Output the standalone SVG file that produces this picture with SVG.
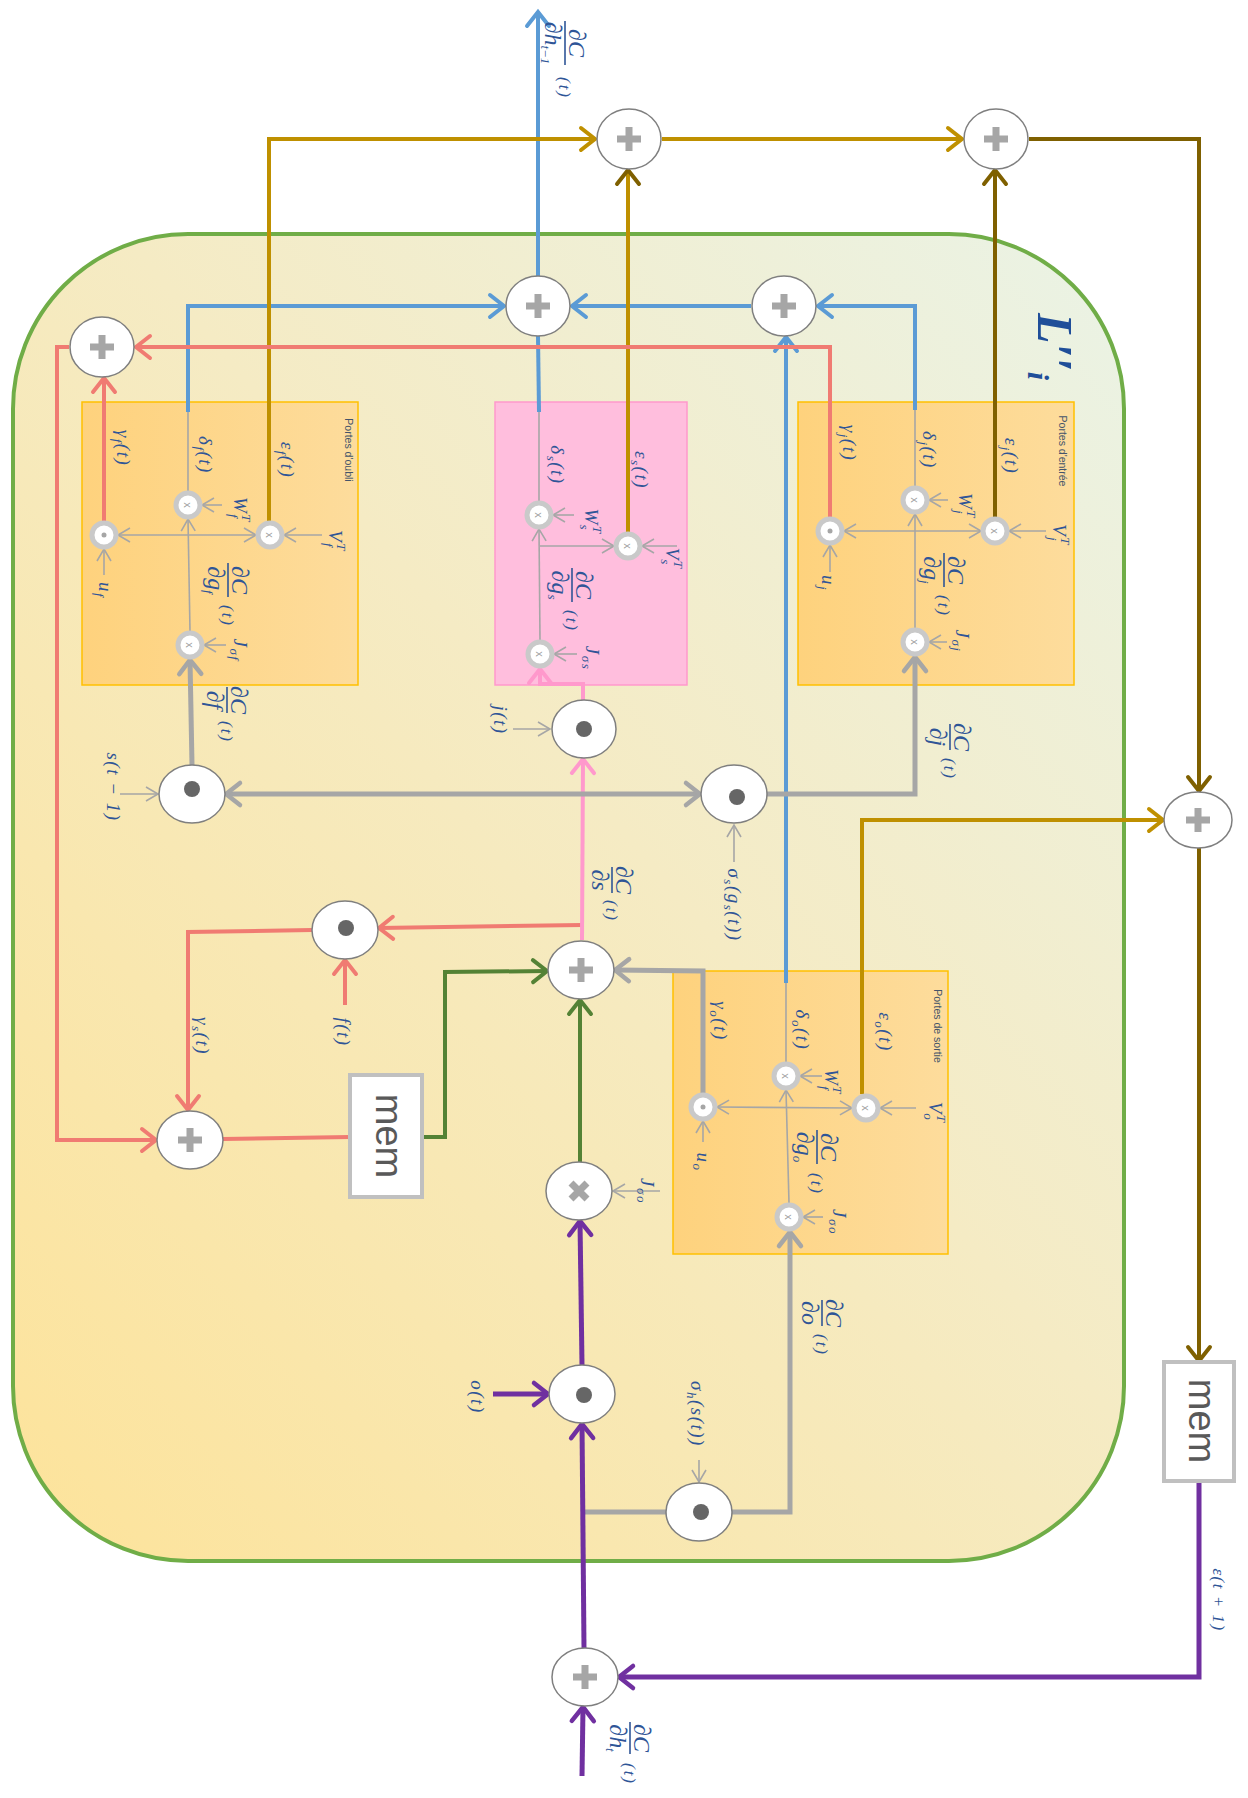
<svg xmlns="http://www.w3.org/2000/svg" width="1248" height="1798" viewBox="0 0 1248 1798">
<defs>
<linearGradient id="bg" x1="0" y1="1" x2="1" y2="0">
<stop offset="0" stop-color="#fde39a"/>
<stop offset="0.55" stop-color="#f5ebc4"/>
<stop offset="1" stop-color="#eaf3e6"/>
</linearGradient>
<linearGradient id="gate" x1="0" y1="0" x2="1" y2="0">
<stop offset="0" stop-color="#fed27d"/>
<stop offset="1" stop-color="#fddc9c"/>
</linearGradient>
<marker id="aBlue" viewBox="-3 -3 22 30" refX="15" refY="12" markerWidth="22" markerHeight="30" orient="auto" markerUnits="userSpaceOnUse"><path d="M1,1 L15,12 L1,23" fill="none" stroke="#5b9bd5" stroke-width="4" stroke-linecap="round"/></marker>
<marker id="aGold" viewBox="-3 -3 22 30" refX="15" refY="12" markerWidth="22" markerHeight="30" orient="auto" markerUnits="userSpaceOnUse"><path d="M1,1 L15,12 L1,23" fill="none" stroke="#bf9000" stroke-width="4" stroke-linecap="round"/></marker>
<marker id="aBrown" viewBox="-3 -3 22 30" refX="15" refY="12" markerWidth="22" markerHeight="30" orient="auto" markerUnits="userSpaceOnUse"><path d="M1,1 L15,12 L1,23" fill="none" stroke="#7f6000" stroke-width="4" stroke-linecap="round"/></marker>
<marker id="aRed" viewBox="-3 -3 22 30" refX="15" refY="12" markerWidth="22" markerHeight="30" orient="auto" markerUnits="userSpaceOnUse"><path d="M1,1 L15,12 L1,23" fill="none" stroke="#f07b72" stroke-width="4" stroke-linecap="round"/></marker>
<marker id="aPink" viewBox="-3 -3 22 30" refX="15" refY="12" markerWidth="22" markerHeight="30" orient="auto" markerUnits="userSpaceOnUse"><path d="M1,1 L15,12 L1,23" fill="none" stroke="#ff99cc" stroke-width="4" stroke-linecap="round"/></marker>
<marker id="aGreen" viewBox="-3 -3 22 30" refX="15" refY="12" markerWidth="22" markerHeight="30" orient="auto" markerUnits="userSpaceOnUse"><path d="M1,1 L15,12 L1,23" fill="none" stroke="#548235" stroke-width="4" stroke-linecap="round"/></marker>
<marker id="aGray" viewBox="-3 -3 22 30" refX="15" refY="12" markerWidth="22" markerHeight="30" orient="auto" markerUnits="userSpaceOnUse"><path d="M1,1 L15,12 L1,23" fill="none" stroke="#a6a6a6" stroke-width="4.5" stroke-linecap="round"/></marker>
<marker id="aGrayS" viewBox="-3 -3 22 30" refX="15" refY="12" markerWidth="22" markerHeight="30" orient="auto-start-reverse" markerUnits="userSpaceOnUse"><path d="M1,1 L15,12 L1,23" fill="none" stroke="#a6a6a6" stroke-width="4.5" stroke-linecap="round"/></marker>
<marker id="aPurple" viewBox="-3 -3 22 30" refX="15" refY="12" markerWidth="22" markerHeight="30" orient="auto" markerUnits="userSpaceOnUse"><path d="M1,1 L15,12 L1,23" fill="none" stroke="#7030a0" stroke-width="4.5" stroke-linecap="round"/></marker>
<marker id="aThin" viewBox="-2 -2 16 18" refX="12" refY="7" markerWidth="16" markerHeight="18" orient="auto-start-reverse" markerUnits="userSpaceOnUse"><path d="M0,0 L12,7 L0,14" fill="none" stroke="#a6a6a6" stroke-width="1.6"/></marker>
</defs>
<style>
.lbl{font-family:"Liberation Serif","DejaVu Serif",serif;font-style:italic;fill:#2f5597;font-size:19px;text-anchor:middle;letter-spacing:1.5px}
.sm{font-size:13px}
.fr{font-family:"Liberation Serif","DejaVu Serif",serif;font-style:italic;fill:#2f5597;font-size:24px;text-anchor:middle}
.ft{font-family:"Liberation Serif","DejaVu Serif",serif;font-style:italic;fill:#2f5597;font-size:17px;text-anchor:middle;letter-spacing:2px}
.bar{stroke:#2f5597;stroke-width:1.6}
.gtitle{font-family:"Liberation Sans",Arial,sans-serif;font-size:10.5px;fill:#44546a;text-anchor:middle}
.op{fill:#fff;stroke:#7f7f7f;stroke-width:1.5}
.plus{stroke:#a6a6a6;stroke-width:7;fill:none}
.dot{fill:#666}
.gn{fill:#fff;stroke:#c9c9c9;stroke-width:5}
.gx{font-family:"Liberation Sans",Arial,sans-serif;font-size:11px;fill:#a0a0a0;text-anchor:middle}
.gd{fill:#a6a6a6}
.thin{stroke:#a6a6a6;stroke-width:1.6;fill:none}
.mem{fill:#fff;stroke:#c0c0c0;stroke-width:4}
.memt{font-family:"Liberation Sans",Arial,sans-serif;font-size:38px;fill:#595959;text-anchor:middle}
.c{fill:none;stroke-width:4}
.blue{stroke:#5b9bd5}
.gold{stroke:#bf9000}
.brown{stroke:#7f6000}
.red{stroke:#f07b72}
.pink{stroke:#ff99cc}
.green{stroke:#548235}
.gray{stroke:#a6a6a6;stroke-width:5}
.purple{stroke:#7030a0;stroke-width:5}
</style>

<g id="cell">
<rect x="13" y="234" width="1111" height="1327" rx="175" ry="175" fill="url(#bg)" stroke="#70ad47" stroke-width="4"/>
<text transform="translate(1055 345) rotate(90)" x="-32" y="17" style="font-family:'Liberation Serif','DejaVu Serif',serif;font-style:italic;font-weight:bold;font-size:50px;fill:#1f4e99">L′′<tspan font-size="30" dy="10">i</tspan></text>
</g>

<g id="gate-oubli">
<rect x="82" y="402" width="276" height="283" fill="url(#gate)" stroke="#ffc000" stroke-width="1.5"/>
<text class="gtitle" transform="translate(349 450) rotate(90)" y="4">Portes d'oubli</text>
</g>
<g id="gate-s">
<rect x="495" y="402" width="192" height="283" fill="#ffbedd" stroke="#ff99cc" stroke-width="1.5"/>
</g>
<g id="gate-entree">
<rect x="798" y="402" width="276" height="283" fill="url(#gate)" stroke="#ffc000" stroke-width="1.5"/>
<text class="gtitle" transform="translate(1063 451) rotate(90)" y="4">Portes d'entrée</text>
</g>
<g id="gate-sortie">
<rect x="673" y="971" width="275" height="283" fill="url(#gate)" stroke="#ffc000" stroke-width="1.5"/>
<text class="gtitle" transform="translate(938 1026) rotate(90)" y="4">Portes de sortie</text>
</g>

<g id="connectors">
<path class="thin" d="M118,535 L256,535" marker-start="url(#aThin)" marker-end="url(#aThin)"/>
<path class="thin" d="M190,631 L188,519" marker-end="url(#aThin)"/>
<path class="thin" d="M188,491 L188,412"/>
<path class="thin" d="M104,575 L104,549" marker-end="url(#aThin)"/>
<path class="thin" d="M222,505 L202,505" marker-end="url(#aThin)"/>
<path class="thin" d="M322,535 L284,535" marker-end="url(#aThin)"/>
<path class="thin" d="M226,645 L204,645" marker-end="url(#aThin)"/>

<path class="thin" d="M540,546 L614,546" marker-end="url(#aThin)"/>
<path class="thin" d="M540,640 L539,529" marker-end="url(#aThin)"/>
<path class="thin" d="M539,501 L539,412"/>
<path class="thin" d="M574,515 L553,515" marker-end="url(#aThin)"/>
<path class="thin" d="M677,546 L642,546" marker-end="url(#aThin)"/>
<path class="thin" d="M577,654 L554,654" marker-end="url(#aThin)"/>

<path class="thin" d="M844,531 L981,531" marker-start="url(#aThin)" marker-end="url(#aThin)"/>
<path class="thin" d="M915,628 L915,514" marker-end="url(#aThin)"/>
<path class="thin" d="M915,486 L915,410"/>
<path class="thin" d="M830,572 L830,545" marker-end="url(#aThin)"/>
<path class="thin" d="M948,500 L929,500" marker-end="url(#aThin)"/>
<path class="thin" d="M1046,531 L1009,531" marker-end="url(#aThin)"/>
<path class="thin" d="M947,642 L929,642" marker-end="url(#aThin)"/>

<path class="thin" d="M717,1107 L852,1108" marker-start="url(#aThin)" marker-end="url(#aThin)"/>
<path class="thin" d="M789,1203 L786,1090" marker-end="url(#aThin)"/>
<path class="thin" d="M786,1062 L786,983"/>
<path class="thin" d="M703,1142 L703,1121" marker-end="url(#aThin)"/>
<path class="thin" d="M822,1076 L800,1076" marker-end="url(#aThin)"/>
<path class="thin" d="M916,1108 L880,1108" marker-end="url(#aThin)"/>
<path class="thin" d="M823,1217 L803,1217" marker-end="url(#aThin)"/>

<path class="thin" d="M120,794 L158,794" marker-end="url(#aThin)"/>
<path class="thin" d="M513,729 L550,729" marker-end="url(#aThin)"/>
<path class="thin" d="M734,862 L734,825" marker-end="url(#aThin)"/>
<path class="thin" d="M699,1460 L699,1482" marker-end="url(#aThin)"/>
<path class="thin" d="M660,1191 L613,1191" marker-end="url(#aThin)"/>

<path class="c blue" d="M538,276 L538,12" marker-end="url(#aBlue)"/>
<path class="c blue" d="M188,412 L188,306 L504,306" marker-end="url(#aBlue)"/>
<path class="c blue" d="M751,306 L572,306" marker-end="url(#aBlue)"/>
<path class="c blue" d="M915,410 L915,306 L818,306" marker-end="url(#aBlue)"/>
<path class="c blue" d="M786,983 L786,337" marker-end="url(#aBlue)"/>
<path class="c blue" d="M539,412 L538,336"/>
<path class="c gold" d="M269,521 L269,139 L595,139" marker-end="url(#aGold)"/>
<path class="c gold" d="M628,532 L628,170" marker-end="url(#aBrown)"/>
<path class="c gold" d="M662,139 L962,139" marker-end="url(#aGold)"/>
<path class="c gold" d="M862,1094 L862,820 L1163,820" marker-end="url(#aGold)"/>
<path class="c brown" d="M995,517 L995,170" marker-end="url(#aBrown)"/>
<path class="c brown" d="M1029,139 L1199,139 L1199,791" marker-end="url(#aBrown)"/>
<path class="c brown" d="M1199,848 L1199,1361" marker-end="url(#aBrown)"/>
<path class="c red" d="M104,521 L104,378" marker-end="url(#aRed)"/>
<path class="c red" d="M830,517 L830,347 L136,347" marker-end="url(#aRed)"/>
<path class="c red" d="M69,347 L57,347 L57,1140 L156,1140" marker-end="url(#aRed)"/>
<path class="c red" d="M582,925 L379,928" marker-end="url(#aRed)"/>
<path class="c red" d="M312,930 L188,932 L188,1110" marker-end="url(#aRed)"/>
<path class="c red" d="M345,1005 L345,960" marker-end="url(#aRed)"/>
<path class="c red" d="M223,1139 L350,1137"/>
<path class="c pink" d="M582,940 L583,759" marker-end="url(#aPink)"/>
<path class="c pink" d="M583,700 L583,684 L540,684 L540,669" marker-end="url(#aPink)"/>
<path class="c green" d="M422,1137 L445,1137 L445,972 L547,971" marker-end="url(#aGreen)"/>
<path class="c green" d="M580,1162 L580,1000" marker-end="url(#aGreen)"/>
<path class="c gray" d="M192,765 L190,660" marker-end="url(#aGray)"/>
<path class="c gray" d="M226,794 L700,794" marker-start="url(#aGrayS)" marker-end="url(#aGrayS)"/>
<path class="c gray" d="M767,794 L915,794 L915,657" marker-end="url(#aGray)"/>
<path class="c gray" d="M703,1093 L703,971 L615,970" marker-end="url(#aGray)"/>
<path class="c gray" d="M582,1512 L666,1512"/>
<path class="c gray" d="M732,1512 L790,1512 L790,1232" marker-end="url(#aGray)"/>
<path class="c purple" d="M582,1776 L583,1707" marker-end="url(#aPurple)"/>
<path class="c purple" d="M584,1648 L582,1424" marker-end="url(#aPurple)"/>
<path class="c purple" d="M582,1365 L580,1221" marker-end="url(#aPurple)"/>
<path class="c purple" d="M493,1394 L548,1394" marker-end="url(#aPurple)"/>
<path class="c purple" d="M1199,1481 L1199,1677 L619,1677" marker-end="url(#aPurple)"/>
</g>

<g id="plus-top1"><ellipse class="op" cx="629" cy="139" rx="32" ry="30"/><path class="plus" d="M617,139 H641 M629,127 V151"/></g>
<g id="plus-top2"><ellipse class="op" cx="996" cy="139" rx="32" ry="30"/><path class="plus" d="M984,139 H1008 M996,127 V151"/></g>
<g id="plus-blue1"><ellipse class="op" cx="538" cy="306" rx="32" ry="30"/><path class="plus" d="M526,306 H550 M538,294 V318"/></g>
<g id="plus-blue2"><ellipse class="op" cx="784" cy="306" rx="32" ry="30"/><path class="plus" d="M772,306 H796 M784,294 V318"/></g>
<g id="plus-red1"><ellipse class="op" cx="102" cy="347" rx="32" ry="30"/><path class="plus" d="M90,347 H114 M102,335 V359"/></g>
<g id="plus-right"><ellipse class="op" cx="1198" cy="820" rx="34" ry="28"/><path class="plus" d="M1186,820 H1210 M1198,808 V832"/></g>
<g id="mem-right"><rect class="mem" x="1164" y="1362" width="70" height="119"/><text class="memt" transform="translate(1199 1421) rotate(90)" y="10">mem</text></g>
<g id="plus-bottom"><ellipse class="op" cx="585" cy="1677" rx="33" ry="29"/><path class="plus" d="M573,1677 H597 M585,1665 V1689"/></g>
<g id="dot-s"><ellipse class="op" cx="192" cy="794" rx="33" ry="29"/><circle class="dot" cx="192" cy="789" r="8"/></g>
<g id="dot-sigs"><ellipse class="op" cx="734" cy="794" rx="33" ry="29"/><circle class="dot" cx="737" cy="797" r="8"/></g>
<g id="dot-j"><ellipse class="op" cx="584" cy="729" rx="32" ry="29"/><circle class="dot" cx="584" cy="729" r="8"/></g>
<g id="dot-f"><ellipse class="op" cx="345" cy="930" rx="33" ry="29"/><circle class="dot" cx="346" cy="928" r="8"/></g>
<g id="plus-red2"><ellipse class="op" cx="190" cy="1140" rx="33" ry="29"/><path class="plus" d="M178,1140 H202 M190,1128 V1152"/></g>
<g id="mem-inner"><rect class="mem" x="350" y="1075" width="72" height="122"/><text class="memt" transform="translate(386 1136) rotate(90)" y="10">mem</text></g>
<g id="plus-center"><ellipse class="op" cx="581" cy="970" rx="33" ry="29"/><path class="plus" d="M569,970 H593 M581,958 V982"/></g>
<g id="times"><ellipse class="op" cx="579" cy="1191" rx="33" ry="29"/><path class="plus" d="M571,1183 L587,1199 M587,1183 L571,1199"/></g>
<g id="dot-o"><ellipse class="op" cx="582" cy="1394" rx="33" ry="29"/><circle class="dot" cx="584" cy="1395" r="8"/></g>
<g id="dot-sigh"><ellipse class="op" cx="699" cy="1512" rx="33" ry="29"/><circle class="dot" cx="701" cy="1512" r="8"/></g>

<g id="gf-gamma"><circle class="gn" cx="104" cy="535" r="12"/><circle class="gd" cx="104" cy="535" r="2.5"/></g>
<g id="gf-w"><circle class="gn" cx="188" cy="505" r="12"/><text class="gx" transform="translate(188 505) rotate(90)" y="4">x</text></g>
<g id="gf-v"><circle class="gn" cx="270" cy="535" r="12"/><text class="gx" transform="translate(270 535) rotate(90)" y="4">x</text></g>
<g id="gf-j"><circle class="gn" cx="190" cy="645" r="12"/><text class="gx" transform="translate(190 645) rotate(90)" y="4">x</text></g>
<g id="gs-w"><circle class="gn" cx="539" cy="515" r="12"/><text class="gx" transform="translate(539 515) rotate(90)" y="4">x</text></g>
<g id="gs-v"><circle class="gn" cx="628" cy="546" r="12"/><text class="gx" transform="translate(628 546) rotate(90)" y="4">x</text></g>
<g id="gs-j"><circle class="gn" cx="540" cy="654" r="12"/><text class="gx" transform="translate(540 654) rotate(90)" y="4">x</text></g>
<g id="gj-gamma"><circle class="gn" cx="830" cy="531" r="12"/><circle class="gd" cx="830" cy="531" r="2.5"/></g>
<g id="gj-w"><circle class="gn" cx="915" cy="500" r="12"/><text class="gx" transform="translate(915 500) rotate(90)" y="4">x</text></g>
<g id="gj-v"><circle class="gn" cx="995" cy="531" r="12"/><text class="gx" transform="translate(995 531) rotate(90)" y="4">x</text></g>
<g id="gj-j"><circle class="gn" cx="915" cy="642" r="12"/><text class="gx" transform="translate(915 642) rotate(90)" y="4">x</text></g>
<g id="go-gamma"><circle class="gn" cx="703" cy="1107" r="12"/><circle class="gd" cx="703" cy="1107" r="2.5"/></g>
<g id="go-w"><circle class="gn" cx="786" cy="1076" r="12"/><text class="gx" transform="translate(786 1076) rotate(90)" y="4">x</text></g>
<g id="go-v"><circle class="gn" cx="866" cy="1108" r="12"/><text class="gx" transform="translate(866 1108) rotate(90)" y="4">x</text></g>
<g id="go-j"><circle class="gn" cx="789" cy="1217" r="12"/><text class="gx" transform="translate(789 1217) rotate(90)" y="4">x</text></g>

<g id="labels">
<text class="lbl" transform="translate(123 448) rotate(90)" y="6">γ<tspan class="sm" dy="4">f</tspan><tspan dy="-4">(t)</tspan></text>
<text class="lbl" transform="translate(205 455) rotate(90)" y="6">δ<tspan class="sm" dy="4">f</tspan><tspan dy="-4">(t)</tspan></text>
<text class="lbl" transform="translate(287 460) rotate(90)" y="6">ε<tspan class="sm" dy="4">f</tspan><tspan dy="-4">(t)</tspan></text>
<text class="lbl" transform="translate(240 510) rotate(90)" y="6">W<tspan class="sm" dy="-8">T</tspan><tspan class="sm" dx="-9" dy="13">f</tspan></text>
<text class="lbl" transform="translate(335 541) rotate(90)" y="6">V<tspan class="sm" dy="-8">T</tspan><tspan class="sm" dx="-9" dy="13">f</tspan></text>
<text class="lbl" transform="translate(105 590) rotate(90)" y="6">u<tspan class="sm" dy="4">f</tspan></text>
<text class="lbl" transform="translate(240 650) rotate(90)" y="6">J<tspan class="sm" dy="4">σf</tspan></text>

<text class="lbl" transform="translate(849 443) rotate(90)" y="6">γ<tspan class="sm" dy="4">j</tspan><tspan dy="-4">(t)</tspan></text>
<text class="lbl" transform="translate(929 450) rotate(90)" y="6">δ<tspan class="sm" dy="4">j</tspan><tspan dy="-4">(t)</tspan></text>
<text class="lbl" transform="translate(1011 456) rotate(90)" y="6">ε<tspan class="sm" dy="4">j</tspan><tspan dy="-4">(t)</tspan></text>
<text class="lbl" transform="translate(965 506) rotate(90)" y="6">W<tspan class="sm" dy="-8">T</tspan><tspan class="sm" dx="-9" dy="13">j</tspan></text>
<text class="lbl" transform="translate(1059 535) rotate(90)" y="6">V<tspan class="sm" dy="-8">T</tspan><tspan class="sm" dx="-9" dy="13">j</tspan></text>
<text class="lbl" transform="translate(828 583) rotate(90)" y="6">u<tspan class="sm" dy="4">j</tspan></text>
<text class="lbl" transform="translate(962 641) rotate(90)" y="6">J<tspan class="sm" dy="4">σj</tspan></text>

<text class="lbl" transform="translate(557 465) rotate(90)" y="6">δ<tspan class="sm" dy="4">s</tspan><tspan dy="-4">(t)</tspan></text>
<text class="lbl" transform="translate(641 470) rotate(90)" y="6">ε<tspan class="sm" dy="4">s</tspan><tspan dy="-4">(t)</tspan></text>
<text class="lbl" transform="translate(591 521) rotate(90)" y="6">W<tspan class="sm" dy="-8">T</tspan><tspan class="sm" dx="-9" dy="13">s</tspan></text>
<text class="lbl" transform="translate(672 558) rotate(90)" y="6">V<tspan class="sm" dy="-8">T</tspan><tspan class="sm" dx="-9" dy="13">s</tspan></text>
<text class="lbl" transform="translate(592 658) rotate(90)" y="6">J<tspan class="sm" dy="4">σs</tspan></text>
<text class="lbl" transform="translate(500 720) rotate(90)" y="6">j(t)</text>

<text class="lbl" transform="translate(720 1021) rotate(90)" y="6">γ<tspan class="sm" dy="4">o</tspan><tspan dy="-4">(t)</tspan></text>
<text class="lbl" transform="translate(802 1030) rotate(90)" y="6">δ<tspan class="sm" dy="4">o</tspan><tspan dy="-4">(t)</tspan></text>
<text class="lbl" transform="translate(885 1032) rotate(90)" y="6">ε<tspan class="sm" dy="4">o</tspan><tspan dy="-4">(t)</tspan></text>
<text class="lbl" transform="translate(831 1082) rotate(90)" y="6">W<tspan class="sm" dy="-8">T</tspan><tspan class="sm" dx="-9" dy="13">f</tspan></text>
<text class="lbl" transform="translate(935 1112) rotate(90)" y="6">V<tspan class="sm" dy="-8">T</tspan><tspan class="sm" dx="-9" dy="13">o</tspan></text>
<text class="lbl" transform="translate(703 1162) rotate(90)" y="6">u<tspan class="sm" dy="4">o</tspan></text>
<text class="lbl" transform="translate(839 1222) rotate(90)" y="6">J<tspan class="sm" dy="4">σo</tspan></text>
<text class="lbl" transform="translate(647 1191) rotate(90)" y="6">J<tspan class="sm" dy="4">σo</tspan></text>

<text class="lbl" transform="translate(734 905) rotate(90)" y="6">σ<tspan class="sm" dy="4">s</tspan><tspan dy="-4">(g</tspan><tspan class="sm" dy="4">s</tspan><tspan dy="-4">(t))</tspan></text>
<text class="lbl" transform="translate(113 787) rotate(90)" y="6">s(t − 1)</text>
<text class="lbl" transform="translate(202 1036) rotate(90)" y="6">γ<tspan class="sm" dy="4">s</tspan><tspan dy="-4">(t)</tspan></text>
<text class="lbl" transform="translate(343 1032) rotate(90)" y="6">f(t)</text>
<text class="lbl" transform="translate(477 1397) rotate(90)" y="6">o(t)</text>
<text class="lbl" transform="translate(697 1414) rotate(90)" y="6">σ<tspan class="sm" dy="4">h</tspan><tspan dy="-4">(s(t))</tspan></text>
<text class="lbl" transform="translate(1219 1600) rotate(90)" y="6" style="font-size:17px">ε(t + 1)</text>

<g transform="translate(228 580) rotate(90)"><line class="bar" x1="-17" y1="0" x2="17" y2="0"/><text class="fr" y="-4">∂C</text><text class="fr" y="20">∂g<tspan class="sm" dy="4">f</tspan></text><text class="ft" x="36" y="6">(t)</text></g>
<g transform="translate(227 700) rotate(90)"><line class="bar" x1="-13" y1="0" x2="13" y2="0"/><text class="fr" y="-4">∂C</text><text class="fr" y="20">∂f</text><text class="ft" x="32" y="6">(t)</text></g>
<g transform="translate(572 585) rotate(90)"><line class="bar" x1="-17" y1="0" x2="17" y2="0"/><text class="fr" y="-4">∂C</text><text class="fr" y="20">∂g<tspan class="sm" dy="4">s</tspan></text><text class="ft" x="36" y="6">(t)</text></g>
<g transform="translate(944 570) rotate(90)"><line class="bar" x1="-17" y1="0" x2="17" y2="0"/><text class="fr" y="-4">∂C</text><text class="fr" y="20">∂g<tspan class="sm" dy="4">j</tspan></text><text class="ft" x="36" y="6">(t)</text></g>
<g transform="translate(950 737) rotate(90)"><line class="bar" x1="-13" y1="0" x2="13" y2="0"/><text class="fr" y="-4">∂C</text><text class="fr" y="20">∂j</text><text class="ft" x="32" y="6">(t)</text></g>
<g transform="translate(817 1147) rotate(90)"><line class="bar" x1="-17" y1="0" x2="17" y2="0"/><text class="fr" y="-4">∂C</text><text class="fr" y="20">∂g<tspan class="sm" dy="4">o</tspan></text><text class="ft" x="37" y="6">(t)</text></g>
<g transform="translate(612 880) rotate(90)"><line class="bar" x1="-13" y1="0" x2="13" y2="0"/><text class="fr" y="-4">∂C</text><text class="fr" y="20">∂s</text><text class="ft" x="31" y="6">(t)</text></g>
<g transform="translate(822 1313) rotate(90)"><line class="bar" x1="-13" y1="0" x2="13" y2="0"/><text class="fr" y="-4">∂C</text><text class="fr" y="20">∂o</text><text class="ft" x="32" y="6">(t)</text></g>
<g transform="translate(630 1738) rotate(90)"><line class="bar" x1="-16" y1="0" x2="16" y2="0"/><text class="fr" y="-4">∂C</text><text class="fr" y="20">∂h<tspan class="sm" dy="4">t</tspan></text><text class="ft" x="36" y="6">(t)</text></g>
<g transform="translate(565 43) rotate(90)"><line class="bar" x1="-22" y1="0" x2="22" y2="0"/><text class="fr" y="-4">∂C</text><text class="fr" y="20">∂h<tspan class="sm" dy="4">t−1</tspan></text><text class="ft" x="45" y="6">(t)</text></g>
</g>
</svg>
